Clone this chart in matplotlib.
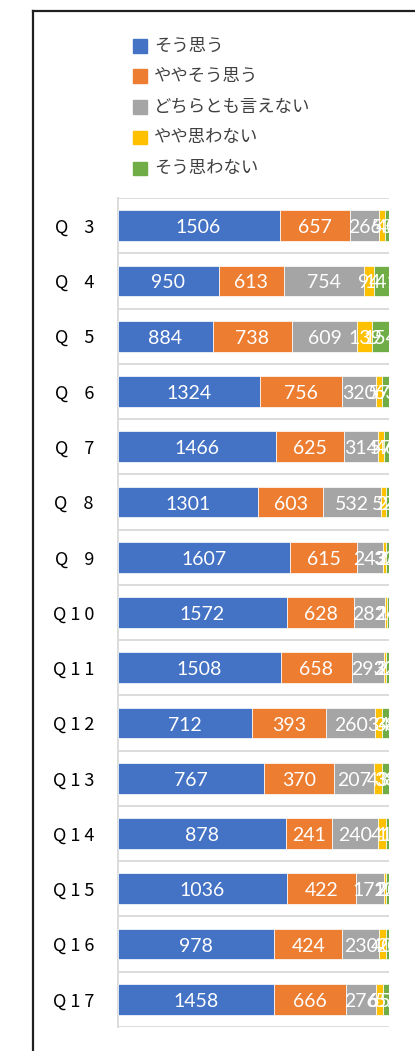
import matplotlib
matplotlib.use("Agg")
import matplotlib.pyplot as plt
import numpy as np
from matplotlib.lines import Line2D
from matplotlib.patches import Rectangle

plt.rcParams['font.family'] = ['Noto Sans CJK JP', 'DejaVu Sans']

# ---- data ----
questions = ['Q3', 'Q4', 'Q5', 'Q6', 'Q7', 'Q8', 'Q9', 'Q10', 'Q11', 'Q12',
             'Q13', 'Q14', 'Q15', 'Q16', 'Q17']
tick_labels = ['Q    3', 'Q    4', 'Q    5', 'Q    6', 'Q    7', 'Q    8', 'Q    9',
               'Q 1 0', 'Q 1 1', 'Q 1 2', 'Q 1 3', 'Q 1 4', 'Q 1 5', 'Q 1 6', 'Q 1 7']
series_names = ['そう思う', 'ややそう思う', 'どちらとも言えない', 'やや思わない', 'そう思わない']
series_colors = ['#4472C4', '#ED7D31', '#A5A5A5', '#FFC000', '#70AD47']

agree = [1506, 950, 884, 1324, 1466, 1301, 1607, 1572, 1508, 712, 767, 878, 1036, 978, 1458]
somewhat_agree = [657, 613, 738, 756, 625, 603, 615, 628, 658, 393, 370, 241, 422, 424, 666]
neutral = [266, 754, 609, 320, 314, 532, 243, 282, 293, 260, 207, 240, 172, 230, 276]
somewhat_disagree = [53, 94, 139, 57, 57, 52, 32, 24, 22, 34, 43, 41, 12, 40, 65]
disagree = [40, 141, 154, 63, 46, 24, 26, 16, 27, 38, 38, 15, 20, 20, 57]

series = [agree, somewhat_agree, neutral, somewhat_disagree, disagree]

# ---- figure ----
W, H = 415, 1051
fig = plt.figure(figsize=(W / 100, H / 100), dpi=100)
ax = fig.add_axes([117.5 / W, 1 - 1027 / H, (389 - 117.5) / W, (1027 - 198) / H])

data = np.array(series, dtype=float)
totals = data.sum(axis=0)
frac = data / totals
left = np.zeros(len(questions))
y = np.arange(len(questions))

for vals, fr, name, col in zip(series, frac, series_names, series_colors):
    bars = ax.barh(y, fr, left=left, height=0.555, color=col,
                   edgecolor='white', linewidth=0.5, label=name, zorder=3)
    anns = ax.bar_label(bars, labels=[str(v) for v in vals], label_type='center',
                        color='white', fontsize=14, fontfamily=['Lato', 'DejaVu Sans'],
                        zorder=4, clip_on=False)
    for a in anns:
        a.xyann = (0, -1.5)
    left += fr

ax.set_xlim(0, 1)
ax.set_ylim(len(questions) - 0.5, -0.5)
ax.set_xticks([])
ax.set_yticks(y)
ax.set_yticklabels(tick_labels, fontsize=13, color='#000000')
ax.tick_params(axis='y', length=0, pad=17)

for b in np.arange(len(questions) + 1) - 0.5:
    ax.axhline(b, color='#D9D9D9', lw=1.3, zorder=1)

for s in ['top', 'right', 'bottom']:
    ax.spines[s].set_visible(False)
ax.spines['left'].set_color('#D9D9D9')
ax.spines['left'].set_linewidth(1.3)

# legend (manual placement)
ys = [45.7, 76.0, 106.7, 137.3, 168.3]
for yy, name, col in zip(ys, series_names, series_colors):
    fig.patches.append(Rectangle((132.7 / W, 1 - (yy + 6.8) / H), 13.8 / W, 13.6 / H,
                                 transform=fig.transFigure, color=col))
    fig.text(154 / W, 1 - yy / H, name, fontsize=12.5, color='#404040',
             va='center', ha='left')

# outer frame (partially visible)
fig.add_artist(Line2D([32.5 / W, 32.5 / W], [0, 1 - 11 / H], transform=fig.transFigure,
                      color='#202020', lw=1.6))
fig.add_artist(Line2D([32.5 / W, 1], [1 - 11 / H, 1 - 11 / H], transform=fig.transFigure,
                      color='#202020', lw=1.6))

fig.savefig('out.png', dpi=100)
